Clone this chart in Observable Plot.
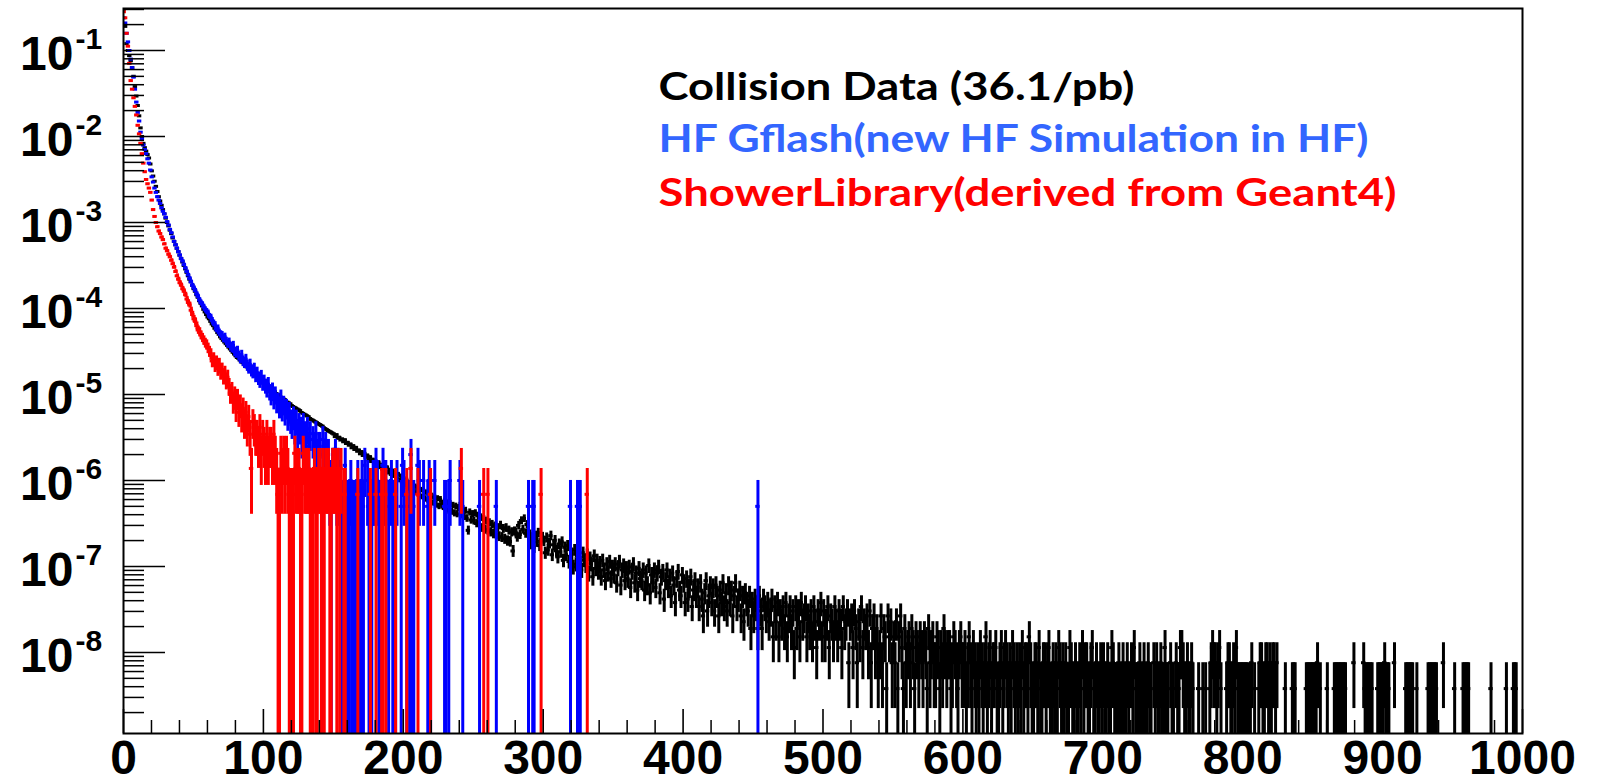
<!DOCTYPE html>
<html><head><meta charset="utf-8">
<script src="https://cdn.jsdelivr.net/npm/d3@7"></script>
<script src="https://cdn.jsdelivr.net/npm/@observablehq/plot@0.6"></script>
<style>html,body{margin:0;padding:0;background:#fff} svg{display:block}</style>
</head><body><div id="chart"></div>
<script>
// ---------------- DATA ----------------
// histogram bins are 1 unit wide, from 0 to 1000
const xTickLabels = [0,100,200,300,400,500,600,700,800,900,1000];
const yTickExponents = [-1,-2,-3,-4,-5,-6,-7,-8];

const seriesNames = ["Collision Data (36.1/pb)", "HF Gflash(new HF Simulation in HF)", "ShowerLibrary(derived from Geant4)"];

// value of one event (one count) per series
const blackUnit = 3.8e-9;
const blueUnit = 5e-7;
const redUnit = 6.9e-7;

// Collision data: log10 of the bin value for bins 0..279
const blackHeadLog = [
-0.52,-0.72,-0.92,-1.00,-1.06,-1.12,-1.20,-1.30,-1.42,-1.53,
-1.64,-1.76,-1.90,-2.00,-2.08,-2.13,-2.17,-2.21,-2.25,-2.32,
-2.40,-2.46,-2.52,-2.58,-2.64,-2.70,-2.75,-2.80,-2.85,-2.90,
-2.95,-3.00,-3.04,-3.09,-3.13,-3.18,-3.22,-3.26,-3.30,-3.34,
-3.38,-3.42,-3.46,-3.50,-3.54,-3.58,-3.62,-3.66,-3.69,-3.73,
-3.77,-3.80,-3.84,-3.87,-3.91,-3.94,-3.97,-4.01,-4.04,-4.07,
-4.10,-4.12,-4.15,-4.18,-4.20,-4.23,-4.25,-4.28,-4.30,-4.33,
-4.35,-4.37,-4.39,-4.41,-4.43,-4.45,-4.47,-4.49,-4.51,-4.53,
-4.55,-4.57,-4.58,-4.60,-4.62,-4.63,-4.65,-4.67,-4.68,-4.70,
-4.72,-4.73,-4.75,-4.76,-4.77,-4.79,-4.80,-4.82,-4.83,-4.85,
-4.86,-4.87,-4.89,-4.90,-4.92,-4.93,-4.94,-4.96,-4.97,-4.99,
-5.00,-5.01,-5.03,-5.04,-5.05,-5.06,-5.08,-5.09,-5.10,-5.11,
-5.13,-5.14,-5.15,-5.16,-5.17,-5.18,-5.19,-5.21,-5.22,-5.23,
-5.24,-5.25,-5.26,-5.28,-5.29,-5.30,-5.31,-5.32,-5.33,-5.34,
-5.35,-5.36,-5.37,-5.39,-5.40,-5.41,-5.42,-5.43,-5.44,-5.45,
-5.46,-5.49,-5.47,-5.51,-5.50,-5.53,-5.52,-5.55,-5.53,-5.57,
-5.56,-5.59,-5.58,-5.62,-5.60,-5.64,-5.62,-5.66,-5.65,-5.69,
-5.67,-5.71,-5.69,-5.73,-5.71,-5.76,-5.73,-5.78,-5.76,-5.80,
-5.78,-5.83,-5.79,-5.85,-5.82,-5.87,-5.83,-5.89,-5.85,-5.91,
-5.88,-5.93,-5.89,-5.95,-5.91,-5.97,-5.93,-6.00,-5.95,-6.02,
-5.98,-6.05,-6.00,-6.08,-6.03,-6.10,-6.04,-6.12,-6.07,-6.14,
-6.09,-6.16,-6.11,-6.19,-6.12,-6.21,-6.14,-6.23,-6.16,-6.24,
-6.18,-6.26,-6.20,-6.28,-6.21,-6.30,-6.22,-6.27,-6.31,-6.24,
-6.33,-6.26,-6.35,-6.27,-6.36,-6.29,-6.38,-6.30,-6.39,-6.32,
-6.29,-6.40,-6.33,-6.42,-6.35,-6.44,-6.58,-6.37,-6.46,-6.39,
-6.47,-6.38,-6.50,-6.41,-6.52,-6.43,-6.55,-6.45,-6.57,-6.47,
-6.58,-6.49,-6.60,-6.51,-6.62,-6.53,-6.63,-6.55,-6.65,-6.52,
-6.66,-6.56,-6.68,-6.55,-6.70,-6.58,-6.71,-6.60,-6.82,-6.59
];
// Collision data: event counts for bins 280..999
const blackTailCounts = [
66,58,79,62,90,71,95,64,81,60,
62,48,58,44,60,51,65,46,54,58,
52,38,57,41,49,60,36,47,53,40,
34,48,39,51,31,44,36,46,30,42,
37,26,41,28,35,43,29,24,38,31,
27,36,22,33,28,20,35,25,31,23,
29,20,31,24,18,28,22,30,19,26,
21,28,17,25,30,16,24,27,18,25,
19,26,15,23,28,17,22,14,25,19,
18,24,14,22,16,27,13,21,17,24,
15,22,26,13,20,23,11,18,24,15,
20,12,22,16,10,19,23,14,12,21,
17,10,19,11,15,20,9,14,18,12,
15,9,17,11,7,13,18,8,12,16,
10,15,8,16,12,7,14,10,17,9,
13,8,16,10,14,7,12,17,9,11,
14,7,12,6,13,10,8,12,5,10,
7,11,9,5,12,8,5,11,9,7,
10,6,8,11,4,9,6,10,4,8,
6,9,5,10,4,7,9,5,8,3,
9,5,8,4,10,6,7,9,4,7,
5,8,4,9,6,3,8,6,10,4,
8,4,6,9,3,7,6,4,9,6,
4,8,6,3,9,5,6,8,2,6,
7,3,8,5,2,6,4,9,3,6,
5,7,3,8,2,5,7,3,5,2,
3,7,2,5,4,1,7,4,6,2,
4,2,6,1,4,7,3,1,5,2,
3,4,2,5,3,1,4,3,2,4,
3,2,4,3,1,5,2,3,4,2,
2,4,3,1,3,2,5,3,2,3,
3,1,2,4,3,2,1,3,4,2,
2,3,1,2,4,2,1,3,2,1,
2,1,3,2,1,2,4,1,2,3,
1,2,2,3,1,1,2,3,1,2,
3,2,1,2,1,3,2,1,2,1,
2,1,3,1,2,2,1,4,2,1,
1,2,2,1,3,1,1,2,2,1,
2,3,1,1,2,1,2,1,3,2,
1,2,1,2,1,1,3,2,1,1,
2,1,1,2,1,3,1,2,2,1,
1,2,3,1,1,2,1,1,2,1,
2,1,1,2,1,1,3,2,1,1,
1,2,1,1,2,1,1,2,1,0,
2,1,3,1,1,1,2,1,1,2,
1,1,2,1,1,0,2,1,2,1,
1,2,1,1,3,1,1,0,2,1,
1,0,2,1,1,3,3,2,1,1,
2,1,1,2,1,0,0,0,1,0,
0,1,0,1,0,0,1,2,3,2,
2,1,2,3,1,0,0,0,1,2,
2,1,1,2,1,3,1,1,1,1,
1,1,1,1,0,1,2,0,1,0,
0,1,2,2,1,1,2,2,1,2,
1,2,2,1,2,0,0,0,0,0,
1,0,0,0,0,1,1,1,0,0,
0,0,0,0,0,1,1,1,1,1,
1,1,1,2,0,1,0,0,0,0,
1,0,0,0,0,1,1,1,1,1,
1,1,1,1,0,0,0,0,0,2,
0,0,0,0,0,0,2,1,1,1,
1,1,1,0,0,0,1,1,1,1,
1,2,1,1,1,0,0,0,2,0,
0,0,0,0,0,0,1,1,1,1,
1,1,0,0,1,0,0,0,0,0,
0,0,1,1,1,1,1,1,1,0,
0,0,0,2,0,0,0,0,0,0,
0,1,0,0,0,0,0,1,1,1,
1,1,0,0,0,0,0,0,0,0,
0,0,0,0,0,0,0,1,0,0,
0,0,0,0,0,0,0,0,1,0,
0,0,0,1,1,1,0,0,0,0
];

// HF Gflash: log10 of bin value for bins 0..119
const blueHeadLog = [
-0.62,-0.68,-0.80,-0.90,-1.00,-1.10,-1.20,-1.31,-1.45,-1.60,
-1.72,-1.82,-1.95,-2.03,-2.10,-2.15,-2.20,-2.26,-2.31,-2.39,
-2.47,-2.53,-2.60,-2.65,-2.70,-2.74,-2.78,-2.83,-2.87,-2.90,
-2.94,-2.99,-3.03,-3.08,-3.12,-3.17,-3.22,-3.26,-3.30,-3.34,
-3.38,-3.42,-3.45,-3.49,-3.53,-3.57,-3.61,-3.65,-3.69,-3.73,
-3.76,-3.79,-3.83,-3.86,-3.90,-3.93,-3.95,-3.98,-4.01,-4.03,
-4.05,-4.09,-4.10,-4.14,-4.17,-4.19,-4.24,-4.23,-4.28,-4.30,
-4.31,-4.35,-4.33,-4.38,-4.41,-4.39,-4.44,-4.46,-4.43,-4.50,
-4.52,-4.49,-4.55,-4.58,-4.54,-4.61,-4.63,-4.59,-4.66,-4.69,
-4.65,-4.72,-4.74,-4.70,-4.78,-4.75,-4.81,-4.84,-4.79,-4.87,
-4.85,-4.90,-4.94,-4.88,-4.97,-5.02,-4.95,-5.06,-5.00,-5.10,
-5.08,-5.15,-5.04,-5.18,-5.12,-5.22,-5.16,-5.27,-5.20,-5.30
];
// HF Gflash: counts for bins 120..249
const blueMidCounts = [
9,11,8,10,7,9,8,6,9,7,
6,8,5,7,1,6,5,7,4,5,
5,1,6,4,5,3,4,2,1,3,
3,4,2,3,2,1,1,1,3,1,
1,1,2,1,1,1,1,2,1,1,
2,1,3,0,2,1,0,1,2,2,
3,2,1,1,0,3,2,2,0,1,
0,2,1,1,1,2,0,0,1,3,
2,0,1,0,1,4,1,1,0,0,
3,2,0,0,2,0,0,1,2,1,
0,0,2,0,0,0,0,0,0,1,
1,0,1,2,0,0,0,0,0,0,
2,0,1,0,0,0,0,0,0,0
];
// HF Gflash: isolated filled bins beyond 250
const blueSparseBins = [254,266,289,292,293,319,324,326,453];
const blueSparseCounts = [1,1,1,1,1,1,1,1,1];

// ShowerLibrary: log10 of bin value for bins 0..74
const redHeadLog = [
-0.55,-0.62,-0.80,-0.95,-1.15,-1.35,-1.45,-1.55,-1.65,-1.75,
-1.87,-1.97,-2.08,-2.20,-2.31,-2.41,-2.50,-2.55,-2.60,-2.65,
-2.74,-2.85,-2.93,-3.00,-3.05,-3.10,-3.13,-3.17,-3.20,-3.25,
-3.30,-3.33,-3.37,-3.40,-3.44,-3.48,-3.52,-3.57,-3.62,-3.66,
-3.70,-3.73,-3.77,-3.80,-3.84,-3.89,-3.93,-3.96,-4.02,-4.07,
-4.12,-4.15,-4.20,-4.25,-4.27,-4.31,-4.34,-4.37,-4.40,-4.42,
-4.46,-4.50,-4.53,-4.61,-4.58,-4.66,-4.62,-4.70,-4.65,-4.74,
-4.71,-4.79,-4.75,-4.84,-4.80
];
// ShowerLibrary: counts for bins 75..164
const redMidCounts = [
18,15,16,12,14,10,13,9,11,8,
10,7,9,6,8,5,2,7,6,5,
5,4,6,3,5,4,3,5,3,4,
4,3,5,3,2,1,1,3,2,3,
2,3,2,1,1,1,1,3,2,2,
2,1,1,3,2,2,2,2,1,1,
1,2,1,1,2,2,1,2,1,2,
2,2,1,1,2,2,2,1,2,1,
2,0,1,1,0,0,0,0,0,0
];
const redSparseBins = [167,176,180,184,185,187,194,202,205,210,219,241,257,260,298,331];
const redSparseCounts = [1,1,1,1,1,1,1,1,2,1,1,2,1,1,1,1];

// ---------------- LAYOUT / STYLE ----------------
const W = 1598, H = 781;
const mL = 123, mT = 8, mR = 76, mB = 48;
const frameW = W - mL - mR, frameH = H - mT - mB;
const yMin = 1.142e-9, yMax = 0.3077;
const colors = {black: "#000000", blue: "#0000ff", red: "#ff0000"};
const legendColors = ["#000000", "#3366ff", "#ff0000"];

function buildBins(headLog, midStart, midCounts, sparseBins, sparseCounts, unit) {
  const out = [];
  headLog.forEach((lg, i) => { const v = Math.pow(10, lg); out.push({b: i, v, e: Math.sqrt(v * unit)}); });
  midCounts.forEach((n, j) => { if (n > 0) out.push({b: midStart + j, v: n * unit, e: Math.sqrt(n) * unit}); });
  sparseBins.forEach((b, k) => { const n = sparseCounts[k]; out.push({b, v: n * unit, e: Math.sqrt(n) * unit}); });
  return out;
}
const blackBins = buildBins(blackHeadLog, blackHeadLog.length, blackTailCounts, [], [], blackUnit);
const blueBins = buildBins(blueHeadLog, blueHeadLog.length, blueMidCounts, blueSparseBins, blueSparseCounts, blueUnit);
const redBins = buildBins(redHeadLog, redHeadLog.length, redMidCounts, redSparseBins, redSparseCounts, redUnit);

function histMarks(bins, color) {
  return [
    Plot.ruleX(bins, {x: d => d.b + 0.5, y1: d => Math.max(d.v - d.e, yMin), y2: d => Math.min(d.v + d.e, yMax), stroke: color, strokeWidth: 3, clip: true}),
    Plot.ruleY(bins, {y: d => d.v, x1: d => d.b, x2: d => d.b + 1, stroke: color, strokeWidth: 3, strokeLinecap: "square", clip: true})
  ];
}

const yMajor = yTickExponents.map(e => Math.pow(10, e));
const yMinor = [];
for (let k = -9; k <= -1; k++) for (let m = 2; m <= 9; m++) { const v = m * Math.pow(10, k); if (v > yMin && v < yMax) yMinor.push(v); }
const xMinor = d3.range(20, 1000, 20).filter(v => v % 100 !== 0);

const axisFont = "Liberation Sans, Arial, Helvetica, sans-serif";
const legendFont = "Lato, 'Open Sans', sans-serif";
const legendLeft = 658, legendBaselines = [99, 151, 205], legendWidths = [476, 710, 738];

const chart = Plot.plot({
  width: W, height: H,
  marginLeft: mL, marginTop: mT, marginRight: mR, marginBottom: mB,
  style: {background: "#fff", overflow: "visible"},
  x: {domain: [0, 1000], axis: null},
  y: {type: "log", domain: [yMin, yMax], axis: null},
  marks: [
    ...histMarks(blackBins, colors.black),
    ...histMarks(blueBins, colors.blue),
    ...histMarks(redBins, colors.red),
    Plot.tickY(yMinor, {y: d => d, insetRight: frameW - 21, stroke: "#000", strokeWidth: 1.5}),
    Plot.tickY(yMajor, {y: d => d, insetRight: frameW - 42, stroke: "#000", strokeWidth: 1.6}),
    Plot.tickX(xMinor, {x: d => d, insetTop: frameH - 13, stroke: "#000", strokeWidth: 1.5}),
    Plot.tickX(xTickLabels, {x: d => d, insetTop: frameH - 24, stroke: "#000", strokeWidth: 1.6}),
    Plot.frame({stroke: "#000", strokeWidth: 2}),
    Plot.text(yTickExponents, {y: e => Math.pow(10, e), text: () => "10", frameAnchor: "left", textAnchor: "end", lineAnchor: "bottom", dx: -50, dy: 20, fontSize: 48, fontWeight: "bold", fontFamily: axisFont, fill: "#000"}),
    Plot.text(yTickExponents, {y: e => Math.pow(10, e), text: e => String(e), frameAnchor: "left", textAnchor: "start", lineAnchor: "bottom", dx: -48, dy: -1, fontSize: 30, fontWeight: "bold", fontFamily: axisFont, fill: "#000"}),
    Plot.text(xTickLabels, {x: d => d, text: d => String(d), frameAnchor: "bottom", lineAnchor: "bottom", dy: 40, fontSize: 48, fontWeight: "bold", fontFamily: axisFont, fill: "#000"}),
    ...seriesNames.map((t, i) => Plot.text([t], {text: d => d, frameAnchor: "top-left", textAnchor: "start", lineAnchor: "bottom", dx: legendLeft - mL, dy: legendBaselines[i] - mT, fontSize: 38, fontWeight: "bold", fontFamily: legendFont, fill: legendColors[i]}))
  ]
});
document.getElementById("chart").appendChild(chart);
// stretch legend lines to the widths seen in the reference
chart.querySelectorAll("text").forEach(el => {
  const i = seriesNames.indexOf(el.textContent);
  if (i >= 0) { el.setAttribute("textLength", legendWidths[i]); el.setAttribute("lengthAdjust", "spacingAndGlyphs"); }
});
</script></body></html>
